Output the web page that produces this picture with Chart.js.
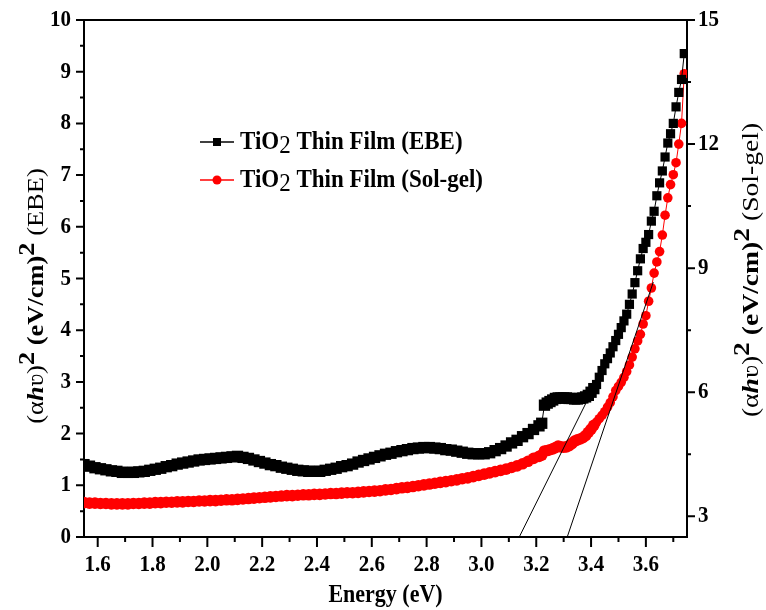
<!DOCTYPE html>
<html>
<head>
<meta charset="utf-8">
<script src="https://cdn.jsdelivr.net/npm/chart.js@4.4.1/dist/chart.umd.min.js"></script>
<style>
  html, body { margin: 0; padding: 0; background: #fff; }
</style>
</head>
<body>
<canvas id="chart" width="766" height="610"></canvas>
<script>
// photon energy (eV), shared by both films
var energy = [
  1.55, 1.57, 1.59, 1.61, 1.63, 1.65, 1.67, 1.69, 1.71, 1.73,
  1.75, 1.77, 1.79, 1.81, 1.83, 1.85, 1.87, 1.89, 1.91, 1.93,
  1.95, 1.97, 1.99, 2.01, 2.03, 2.05, 2.07, 2.09, 2.11, 2.13,
  2.15, 2.17, 2.19, 2.21, 2.23, 2.25, 2.27, 2.29, 2.31, 2.33,
  2.35, 2.37, 2.39, 2.41, 2.43, 2.45, 2.47, 2.49, 2.51, 2.53,
  2.55, 2.57, 2.59, 2.61, 2.63, 2.65, 2.67, 2.69, 2.71, 2.73,
  2.75, 2.77, 2.79, 2.81, 2.83, 2.85, 2.87, 2.89, 2.91, 2.93,
  2.95, 2.97, 2.99, 3.01, 3.03, 3.05, 3.07, 3.09, 3.11, 3.13,
  3.15, 3.17, 3.19, 3.21,
  3.22, 3.23, 3.24, 3.25, 3.26, 3.27, 3.28, 3.29, 3.30, 3.31,
  3.32, 3.33, 3.34, 3.35, 3.36, 3.37, 3.38, 3.39, 3.40, 3.41,
  3.42, 3.43, 3.44, 3.45, 3.46, 3.47, 3.48, 3.49, 3.50, 3.51,
  3.52, 3.53, 3.54, 3.55, 3.56, 3.57, 3.58, 3.59, 3.60, 3.61,
  3.62, 3.63, 3.64, 3.65, 3.66, 3.67, 3.68, 3.69, 3.70, 3.71,
  3.72, 3.73, 3.74
];

// (alpha h nu)^2, EBE film - left axis
var ebe = [
  1.40, 1.37, 1.34, 1.32, 1.30, 1.28, 1.27, 1.25, 1.25, 1.25,
  1.26, 1.27, 1.29, 1.31, 1.33, 1.36, 1.38, 1.41, 1.43, 1.45,
  1.47, 1.49, 1.50, 1.51, 1.52, 1.53, 1.54, 1.55, 1.56, 1.54,
  1.52, 1.49, 1.46, 1.43, 1.40, 1.38, 1.35, 1.33, 1.31, 1.29,
  1.28, 1.27, 1.27, 1.27, 1.29, 1.31, 1.33, 1.36, 1.38, 1.41,
  1.45, 1.48, 1.51, 1.54, 1.57, 1.60, 1.62, 1.65, 1.67, 1.69,
  1.71, 1.72, 1.73, 1.73, 1.72, 1.71, 1.69, 1.68, 1.66, 1.64,
  1.62, 1.61, 1.61, 1.61, 1.63, 1.67, 1.71, 1.76, 1.82, 1.87,
  1.94, 2.00, 2.08, 2.15,
  2.20, 2.55, 2.59, 2.62, 2.65, 2.68, 2.69, 2.69, 2.69, 2.69,
  2.68, 2.68, 2.67, 2.67, 2.68, 2.69, 2.71, 2.74, 2.80, 2.87,
  2.95, 3.09, 3.22, 3.35, 3.45, 3.56, 3.68, 3.80, 3.92, 4.05,
  4.18, 4.31, 4.50, 4.70, 4.92, 5.15, 5.38, 5.58, 5.70, 5.85,
  6.11, 6.30, 6.60, 6.85, 7.08, 7.35, 7.62, 7.80, 8.00, 8.32,
  8.60, 8.85, 9.35
];

// (alpha h nu)^2, sol-gel film - right axis
var solgel = [
  3.33, 3.32, 3.32, 3.31, 3.31, 3.30, 3.30, 3.30, 3.30, 3.31,
  3.31, 3.32, 3.32, 3.33, 3.33, 3.34, 3.34, 3.35, 3.35, 3.36,
  3.36, 3.37, 3.37, 3.38, 3.38, 3.39, 3.40, 3.40, 3.41, 3.42,
  3.43, 3.44, 3.45, 3.46, 3.47, 3.48, 3.49, 3.50, 3.50, 3.51,
  3.52, 3.52, 3.53, 3.53, 3.54, 3.55, 3.55, 3.56, 3.57, 3.57,
  3.58, 3.59, 3.60, 3.61, 3.62, 3.64, 3.65, 3.67, 3.69, 3.70,
  3.72, 3.74, 3.76, 3.78, 3.80, 3.82, 3.84, 3.86, 3.88, 3.91,
  3.93, 3.96, 3.99, 4.02, 4.05, 4.08, 4.11, 4.14, 4.18, 4.22,
  4.27, 4.33, 4.40, 4.45,
  4.48, 4.58, 4.59, 4.61, 4.63, 4.66, 4.70, 4.68, 4.67, 4.68,
  4.71, 4.76, 4.82, 4.85, 4.87, 4.90, 4.95, 5.03, 5.11, 5.20,
  5.28, 5.36, 5.44, 5.53, 5.64, 5.75, 5.89, 6.04, 6.14, 6.24,
  6.36, 6.50, 6.66, 6.85, 7.05, 7.24, 7.40, 7.65, 7.85, 8.20,
  8.52, 8.88, 9.15, 9.40, 9.80, 10.28, 10.70, 11.02, 11.26, 11.55,
  12.00, 12.50, 13.70
];

// band-gap extrapolation lines (left axis units)
var fitEbeX = [3.138, 3.386];
var fitEbeY = [0, 2.64];
var fitSolX = [3.313, 3.627];
var fitSolY = [0, 4.93];

var xTicks = [1.6, 1.8, 2.0, 2.2, 2.4, 2.6, 2.8, 3.0, 3.2, 3.4, 3.6];
var xMinor = [1.7, 1.9, 2.1, 2.3, 2.5, 2.7, 2.9, 3.1, 3.3, 3.5, 3.7];
var leftTicks = [0, 1, 2, 3, 4, 5, 6, 7, 8, 9, 10];
var leftMinor = [0.5, 1.5, 2.5, 3.5, 4.5, 5.5, 6.5, 7.5, 8.5, 9.5];
var rightTicks = [3, 6, 9, 12, 15];
var rightMinor = [4.5, 7.5, 10.5, 13.5];

var SERIF = '"Liberation Serif", "Times New Roman", serif';
var TALL = 1.12;   // the original's lettering is a little taller than wide

function pts(xs, ys) {
    return xs.map(function (x, i) { return {x: x, y: ys[i]}; });
}

// markers merge into a thick band where the points are dense
function markerSize(dense, sparse) {
    return function (c) {
        var p = c.raw;
        return p && p.x < 3.42 ? dense : sparse;
    };
}

function label(ctx, text, x, y, align) {
    ctx.save();
    ctx.translate(x, y);
    ctx.scale(1, TALL);
    ctx.font = 'bold 21px ' + SERIF;
    ctx.textAlign = align;
    ctx.textBaseline = 'middle';
    ctx.fillText(text, 0, 0);
    ctx.restore();
}

// draws text pieces one after another; each piece may be raised or lowered
function drawPieces(ctx, pieces, x, y, size) {
    ctx.textAlign = 'left';
    pieces.forEach(function (p) {
        ctx.font = (p.style || '') + ' ' + size + 'px ' + SERIF;
        ctx.fillText(p.t, x, y + (p.dy || 0));
        x += ctx.measureText(p.t).width;
    });
    return x;
}

function piecesWidth(ctx, pieces, size) {
    var w = 0;
    pieces.forEach(function (p) {
        ctx.font = (p.style || '') + ' ' + size + 'px ' + SERIF;
        w += ctx.measureText(p.t).width;
    });
    return w;
}

function yTitle(name) {
    return [
        {t: '(\u03b1', style: 'normal'},
        {t: 'h', style: 'italic bold'},
        {t: '\u028b)', style: 'normal'},
        {t: '2', style: 'bold', dy: -9},
        {t: ' (eV/cm)', style: 'bold'},
        {t: '2', style: 'bold', dy: -9},
        {t: ' (' + name + ')', style: 'normal'}
    ];
}

function verticalTitle(ctx, pieces, cx, cy, size) {
    ctx.save();
    ctx.translate(cx, cy);
    ctx.rotate(-Math.PI / 2);
    ctx.scale(TALL + 0.03, 1);
    drawPieces(ctx, pieces, -piecesWidth(ctx, pieces, size) / 2, 0, size);
    ctx.restore();
}

var decorations = {
    id: 'decorations',
    afterDraw: function (chart) {
        var ctx = chart.ctx, a = chart.chartArea;
        var sx = chart.scales.x, yl = chart.scales.yl, yr = chart.scales.yr;
        ctx.save();
        ctx.strokeStyle = '#000';
        ctx.lineWidth = 2;
        ctx.beginPath();
        ctx.moveTo(a.left - 1, a.top);
        ctx.lineTo(a.right + 1, a.top);
        function tick(x1, y1, x2, y2) { ctx.moveTo(x1, y1); ctx.lineTo(x2, y2); }
        xTicks.forEach(function (v) { var p = sx.getPixelForValue(v); tick(p, a.bottom, p, a.bottom + 10); });
        xMinor.forEach(function (v) { var p = sx.getPixelForValue(v); tick(p, a.bottom, p, a.bottom + 5); });
        leftTicks.forEach(function (v) { var p = yl.getPixelForValue(v); tick(a.left - 8, p, a.left, p); });
        leftMinor.forEach(function (v) { var p = yl.getPixelForValue(v); tick(a.left - 4, p, a.left, p); });
        rightTicks.forEach(function (v) { var p = yr.getPixelForValue(v); tick(a.right, p, a.right + 8, p); });
        rightMinor.forEach(function (v) { var p = yr.getPixelForValue(v); tick(a.right, p, a.right + 4, p); });
        ctx.stroke();

        // tick labels
        ctx.fillStyle = '#000';
        xTicks.forEach(function (v) { label(ctx, v.toFixed(1), sx.getPixelForValue(v), a.bottom + 28, 'center'); });
        leftTicks.forEach(function (v) { label(ctx, String(v), a.left - 13, yl.getPixelForValue(v), 'right'); });
        rightTicks.forEach(function (v) { label(ctx, String(v), a.right + 11, yr.getPixelForValue(v), 'left'); });

        // axis titles
        ctx.save();
        ctx.translate((a.left + a.right) / 2, 596);
        ctx.scale(1, TALL);
        ctx.font = 'bold 22px ' + SERIF;
        ctx.textAlign = 'center';
        ctx.textBaseline = 'middle';
        ctx.fillText('Energy (eV)', 0, 0);
        ctx.restore();

        ctx.textBaseline = 'middle';
        verticalTitle(ctx, yTitle('EBE'), 37, 296, 23);
        verticalTitle(ctx, yTitle('Sol-gel'), 752, 270, 24);

        // legend
        var items = [
            {name: 'EBE', color: '#000', shape: 'rect', y: 142},
            {name: 'Sol-gel', color: '#ff0000', shape: 'circle', y: 180}
        ];
        items.forEach(function (it) {
            ctx.strokeStyle = it.color;
            ctx.fillStyle = it.color;
            ctx.lineWidth = 1.5;
            ctx.beginPath();
            ctx.moveTo(200, it.y);
            ctx.lineTo(234, it.y);
            ctx.stroke();
            ctx.beginPath();
            if (it.shape === 'rect') {
                ctx.rect(213, it.y - 4, 8, 8);
            } else {
                ctx.arc(217, it.y, 4.5, 0, Math.PI * 2);
            }
            ctx.fill();
            ctx.fillStyle = '#000';
            ctx.save();
            ctx.translate(240, it.y);
            ctx.scale(1, TALL);
            drawPieces(ctx, [
                {t: 'TiO', style: 'bold'},
                {t: '2', style: 'normal', dy: 4},
                {t: ' Thin Film (' + it.name + ')', style: 'bold'}
            ], 0, 0, 23);
            ctx.restore();
        });
        ctx.restore();
    }
};

var hidden = {display: false};

new Chart(document.getElementById('chart'), {
    type: 'line',
    data: {
        datasets: [
            {
                data: pts(fitEbeX, fitEbeY), yAxisID: 'yl',
                borderColor: '#000', borderWidth: 1, pointRadius: 0
            },
            {
                data: pts(fitSolX, fitSolY), yAxisID: 'yl',
                borderColor: '#000', borderWidth: 1, pointRadius: 0
            },
            {
                label: 'TiO2 Thin Film (EBE)',
                data: pts(energy, ebe), yAxisID: 'yl',
                borderColor: '#000', backgroundColor: '#000', borderWidth: 1,
                pointStyle: 'rect', pointRadius: markerSize(8, 6.5), pointBorderWidth: 0
            },
            {
                label: 'TiO2 Thin Film (Sol-gel)',
                data: pts(energy, solgel), yAxisID: 'yr',
                borderColor: '#ff0000', backgroundColor: '#ff0000', borderWidth: 1,
                pointStyle: 'circle', pointRadius: markerSize(5.8, 4.8), pointBorderWidth: 0
            }
        ]
    },
    options: {
        responsive: false,
        animation: false,
        layout: {padding: {top: 20}},
        plugins: {legend: {display: false}, tooltip: {enabled: false}},
        scales: {
            x: {
                type: 'linear', min: 1.55, max: 3.75,
                grid: hidden,
                border: {display: true, color: '#000', width: 2},
                afterFit: function (s) { s.height = 73; },
                ticks: hidden
            },
            yl: {
                position: 'left', min: 0, max: 10,
                grid: hidden,
                border: {display: true, color: '#000', width: 2},
                afterFit: function (s) { s.width = 84; },
                ticks: hidden
            },
            yr: {
                position: 'right', min: 2.5, max: 15,
                grid: hidden,
                border: {display: true, color: '#000', width: 2},
                afterFit: function (s) { s.width = 79; },
                ticks: hidden
            }
        }
    },
    plugins: [decorations]
});
</script>
</body>
</html>
